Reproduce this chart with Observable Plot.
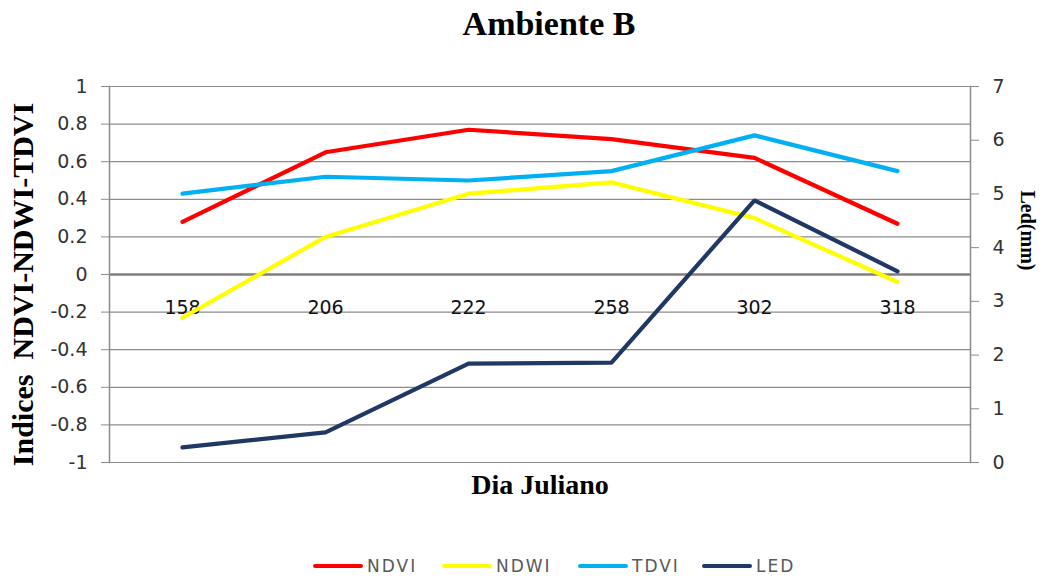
<!DOCTYPE html>
<html>
<head>
<meta charset="utf-8">
<script src="https://cdn.jsdelivr.net/npm/d3@7"></script>
<script src="https://cdn.jsdelivr.net/npm/@observablehq/plot@0.6"></script>
<style>
  html, body { margin: 0; padding: 0; background: #fff; }
  #wrap { position: relative; width: 1050px; height: 579px; overflow: hidden; }
  #title { position: absolute; left: 0; top: 0; width: 1050px; height: 50px; }
  #title span { position: absolute; left: 549px; top: 5px; transform: translateX(-50%); line-height: 1;
    font: bold 34px "Liberation Serif", "DejaVu Serif", serif; color: #000; white-space: nowrap; }
  #chart { position: absolute; left: 0; top: 50px; }
  #legend { position: absolute; left: 0; top: 540px; width: 1050px; height: 39px; }
  .item { position: absolute; top: 16px; height: 20px; display: flex; align-items: center;
    font: 17px "DejaVu Sans", sans-serif; color: #595959; letter-spacing: 2px; }
  .swatch { width: 50px; height: 4px; border-radius: 2px; margin-right: 4px; }
</style>
</head>
<body>
<div id="wrap">
  <div id="title"><span>Ambiente B</span></div>
  <div id="chart"></div>
  <div id="legend"></div>
</div>
<script>
const days = ["158", "206", "222", "258", "302", "318"];
const ndvi = [0.28, 0.65, 0.77, 0.72, 0.62, 0.27];
const ndwi = [-0.23, 0.20, 0.43, 0.49, 0.30, -0.04];
const tdvi = [0.43, 0.52, 0.50, 0.55, 0.74, 0.55];
const led  = [0.28, 0.56, 1.84, 1.86, 4.88, 3.56];
const leftTicks = [-1, -0.8, -0.6, -0.4, -0.2, 0, 0.2, 0.4, 0.6, 0.8, 1];
const rightTicks = [0, 1, 2, 3, 4, 5, 6, 7];
const seriesNames = ["NDVI", "NDWI", "TDVI", "LED"];
const seriesColors = ["#FF0000", "#FFFF00", "#00B0F0", "#1F3864"];

// secondary axis mapping (0..7 onto -1..1)
const toLeft = v => -1 + v * 2 / 7;
const fromLeft = y => Math.round((y + 1) * 3.5);

const rows = [];
[ndvi, ndwi, tdvi, led].forEach((arr, i) => {
  arr.forEach((v, j) => rows.push({
    series: seriesNames[i],
    day: days[j],
    y: seriesNames[i] === "LED" ? toLeft(v) : v
  }));
});

const serif = '"Liberation Serif", "DejaVu Serif", serif';
const sans = '"DejaVu Sans", sans-serif';

const chart = Plot.plot({
  width: 1050,
  height: 490,
  marginTop: 36,
  marginBottom: 78,
  marginLeft: 109,
  marginRight: 80,
  style: { fontFamily: sans, fontSize: "19px", color: "#222", background: "#fff", overflow: "visible" },
  x: { type: "point", domain: days, padding: 0.5, axis: null },
  y: { domain: [-1, 1], axis: null },
  color: { domain: seriesNames, range: seriesColors },
  marks: [
    Plot.gridY(leftTicks.filter(d => d !== 0), { stroke: "#8c8c8c", strokeOpacity: 1, strokeWidth: 1.2 }),
    Plot.ruleY([0], { stroke: "#7f7f7f", strokeWidth: 2.6 }),
    Plot.frame({ anchor: "left", stroke: "#8c8c8c", strokeWidth: 1.5 }),
    Plot.frame({ anchor: "right", stroke: "#8c8c8c", strokeWidth: 1.5 }),
    Plot.axisY({ anchor: "left", ticks: leftTicks, tickSize: 8, tickPadding: 14,
      stroke: "#8c8c8c", fill: "#333", fontSize: 19, label: null,
      tickFormat: d => String(+d.toFixed(1)) }),
    Plot.axisY({ anchor: "right", ticks: rightTicks.map(toLeft), tickSize: 8, tickPadding: 14,
      stroke: "#8c8c8c", fill: "#333", fontSize: 19, label: null,
      tickFormat: d => String(fromLeft(d)) }),
    Plot.text(days, { x: d => d, y: () => 0, dy: 33, text: d => d, fontSize: 19, fill: "#111" }),
    Plot.line(rows, { x: "day", y: "y", z: "series", stroke: "series", strokeWidth: 4.2,
      strokeLinecap: "round", strokeLinejoin: "miter" }),
    Plot.text(["Indices  NDVI-NDWI-TDVI"], { frameAnchor: "left", textAnchor: "middle", lineAnchor: "middle",
      dx: -86, dy: 10, rotate: -90,
      fontFamily: serif, fontWeight: "bold", fontSize: 30, fill: "#000" }),
    Plot.text(["Led(mm)"], { frameAnchor: "right", textAnchor: "middle", lineAnchor: "middle",
      dx: 57, dy: -44, rotate: 90,
      fontFamily: serif, fontWeight: "bold", fontSize: 20, fill: "#000" }),
    Plot.text(["Dia Juliano"], { frameAnchor: "bottom", lineAnchor: "middle", dy: 23,
      fontFamily: serif, fontWeight: "bold", fontSize: 28, fill: "#000" })
  ]
});
document.getElementById("chart").appendChild(chart);

const legendLefts = [313, 442, 578, 702];
const legend = document.getElementById("legend");
seriesNames.forEach((name, i) => {
  const item = document.createElement("div");
  item.className = "item";
  item.style.left = legendLefts[i] + "px";
  const sw = document.createElement("div");
  sw.className = "swatch";
  sw.style.background = seriesColors[i];
  const lab = document.createElement("span");
  lab.textContent = name;
  item.appendChild(sw);
  item.appendChild(lab);
  legend.appendChild(item);
});
</script>
</body>
</html>
